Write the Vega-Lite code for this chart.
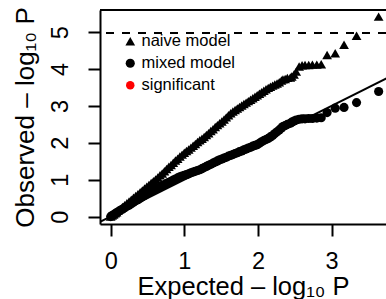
{
  "$schema": "https://vega.github.io/schema/vega-lite/v6.json",
  "autosize": "none",
  "padding": {"left": 100, "top": 10, "right": 0, "bottom": 75},
  "width": 286,
  "height": 214,
  "background": "white",
  "datasets": {
    "frame": [{"y": 5.6}],
    "threshold": [{"y": 4.98}],
    "diagonal": [{"x": -0.145, "y": -0.145, "x2": 3.765, "y2": 3.765}],
    "qq": [
      {"x": 0.00, "y": 0.00, "model": "naive model"},
      {"x": 0.02, "y": 0.03, "model": "naive model"},
      {"x": 0.04, "y": 0.06, "model": "naive model"},
      {"x": 0.06, "y": 0.09, "model": "naive model"},
      {"x": 0.08, "y": 0.12, "model": "naive model"},
      {"x": 0.10, "y": 0.16, "model": "naive model"},
      {"x": 0.13, "y": 0.21, "model": "naive model"},
      {"x": 0.16, "y": 0.26, "model": "naive model"},
      {"x": 0.19, "y": 0.31, "model": "naive model"},
      {"x": 0.22, "y": 0.36, "model": "naive model"},
      {"x": 0.25, "y": 0.41, "model": "naive model"},
      {"x": 0.28, "y": 0.46, "model": "naive model"},
      {"x": 0.31, "y": 0.51, "model": "naive model"},
      {"x": 0.34, "y": 0.56, "model": "naive model"},
      {"x": 0.37, "y": 0.61, "model": "naive model"},
      {"x": 0.40, "y": 0.66, "model": "naive model"},
      {"x": 0.43, "y": 0.71, "model": "naive model"},
      {"x": 0.46, "y": 0.76, "model": "naive model"},
      {"x": 0.49, "y": 0.81, "model": "naive model"},
      {"x": 0.52, "y": 0.86, "model": "naive model"},
      {"x": 0.55, "y": 0.91, "model": "naive model"},
      {"x": 0.58, "y": 0.96, "model": "naive model"},
      {"x": 0.61, "y": 1.01, "model": "naive model"},
      {"x": 0.64, "y": 1.06, "model": "naive model"},
      {"x": 0.67, "y": 1.12, "model": "naive model"},
      {"x": 0.70, "y": 1.17, "model": "naive model"},
      {"x": 0.73, "y": 1.23, "model": "naive model"},
      {"x": 0.76, "y": 1.29, "model": "naive model"},
      {"x": 0.79, "y": 1.35, "model": "naive model"},
      {"x": 0.82, "y": 1.40, "model": "naive model"},
      {"x": 0.85, "y": 1.46, "model": "naive model"},
      {"x": 0.88, "y": 1.52, "model": "naive model"},
      {"x": 0.91, "y": 1.57, "model": "naive model"},
      {"x": 0.94, "y": 1.63, "model": "naive model"},
      {"x": 0.97, "y": 1.68, "model": "naive model"},
      {"x": 1.00, "y": 1.73, "model": "naive model"},
      {"x": 1.03, "y": 1.78, "model": "naive model"},
      {"x": 1.06, "y": 1.82, "model": "naive model"},
      {"x": 1.09, "y": 1.87, "model": "naive model"},
      {"x": 1.12, "y": 1.92, "model": "naive model"},
      {"x": 1.15, "y": 1.97, "model": "naive model"},
      {"x": 1.18, "y": 2.02, "model": "naive model"},
      {"x": 1.21, "y": 2.07, "model": "naive model"},
      {"x": 1.24, "y": 2.11, "model": "naive model"},
      {"x": 1.27, "y": 2.16, "model": "naive model"},
      {"x": 1.30, "y": 2.21, "model": "naive model"},
      {"x": 1.33, "y": 2.26, "model": "naive model"},
      {"x": 1.36, "y": 2.32, "model": "naive model"},
      {"x": 1.39, "y": 2.37, "model": "naive model"},
      {"x": 1.42, "y": 2.43, "model": "naive model"},
      {"x": 1.45, "y": 2.48, "model": "naive model"},
      {"x": 1.48, "y": 2.53, "model": "naive model"},
      {"x": 1.51, "y": 2.58, "model": "naive model"},
      {"x": 1.54, "y": 2.63, "model": "naive model"},
      {"x": 1.57, "y": 2.69, "model": "naive model"},
      {"x": 1.60, "y": 2.75, "model": "naive model"},
      {"x": 1.63, "y": 2.80, "model": "naive model"},
      {"x": 1.66, "y": 2.85, "model": "naive model"},
      {"x": 1.69, "y": 2.89, "model": "naive model"},
      {"x": 1.72, "y": 2.93, "model": "naive model"},
      {"x": 1.75, "y": 2.97, "model": "naive model"},
      {"x": 1.78, "y": 3.01, "model": "naive model"},
      {"x": 1.81, "y": 3.05, "model": "naive model"},
      {"x": 1.84, "y": 3.09, "model": "naive model"},
      {"x": 1.87, "y": 3.13, "model": "naive model"},
      {"x": 1.90, "y": 3.17, "model": "naive model"},
      {"x": 1.93, "y": 3.21, "model": "naive model"},
      {"x": 1.96, "y": 3.25, "model": "naive model"},
      {"x": 1.99, "y": 3.29, "model": "naive model"},
      {"x": 2.02, "y": 3.33, "model": "naive model"},
      {"x": 2.05, "y": 3.37, "model": "naive model"},
      {"x": 2.08, "y": 3.41, "model": "naive model"},
      {"x": 2.11, "y": 3.45, "model": "naive model"},
      {"x": 2.14, "y": 3.49, "model": "naive model"},
      {"x": 2.17, "y": 3.52, "model": "naive model"},
      {"x": 2.20, "y": 3.55, "model": "naive model"},
      {"x": 2.23, "y": 3.58, "model": "naive model"},
      {"x": 2.26, "y": 3.61, "model": "naive model"},
      {"x": 2.29, "y": 3.64, "model": "naive model"},
      {"x": 2.32, "y": 3.69, "model": "naive model"},
      {"x": 2.34, "y": 3.72, "model": "naive model"},
      {"x": 2.37, "y": 3.73, "model": "naive model"},
      {"x": 2.40, "y": 3.76, "model": "naive model"},
      {"x": 2.44, "y": 3.77, "model": "naive model"},
      {"x": 2.46, "y": 3.80, "model": "naive model"},
      {"x": 2.49, "y": 3.85, "model": "naive model"},
      {"x": 2.52, "y": 3.93, "model": "naive model"},
      {"x": 2.56, "y": 4.07, "model": "naive model"},
      {"x": 2.60, "y": 4.10, "model": "naive model"},
      {"x": 2.64, "y": 4.11, "model": "naive model"},
      {"x": 2.69, "y": 4.11, "model": "naive model"},
      {"x": 2.74, "y": 4.12, "model": "naive model"},
      {"x": 2.80, "y": 4.12, "model": "naive model"},
      {"x": 2.86, "y": 4.13, "model": "naive model"},
      {"x": 2.94, "y": 4.38, "model": "naive model"},
      {"x": 3.05, "y": 4.43, "model": "naive model"},
      {"x": 3.17, "y": 4.66, "model": "naive model"},
      {"x": 3.34, "y": 4.90, "model": "naive model"},
      {"x": 3.64, "y": 5.42, "model": "naive model"},
      {"x": 0.00, "y": 0.00, "model": "mixed model"},
      {"x": 0.02, "y": 0.03, "model": "mixed model"},
      {"x": 0.04, "y": 0.05, "model": "mixed model"},
      {"x": 0.06, "y": 0.08, "model": "mixed model"},
      {"x": 0.08, "y": 0.10, "model": "mixed model"},
      {"x": 0.10, "y": 0.13, "model": "mixed model"},
      {"x": 0.13, "y": 0.17, "model": "mixed model"},
      {"x": 0.16, "y": 0.20, "model": "mixed model"},
      {"x": 0.19, "y": 0.24, "model": "mixed model"},
      {"x": 0.22, "y": 0.28, "model": "mixed model"},
      {"x": 0.25, "y": 0.31, "model": "mixed model"},
      {"x": 0.28, "y": 0.35, "model": "mixed model"},
      {"x": 0.31, "y": 0.39, "model": "mixed model"},
      {"x": 0.34, "y": 0.43, "model": "mixed model"},
      {"x": 0.37, "y": 0.46, "model": "mixed model"},
      {"x": 0.40, "y": 0.50, "model": "mixed model"},
      {"x": 0.43, "y": 0.54, "model": "mixed model"},
      {"x": 0.46, "y": 0.57, "model": "mixed model"},
      {"x": 0.49, "y": 0.61, "model": "mixed model"},
      {"x": 0.52, "y": 0.65, "model": "mixed model"},
      {"x": 0.55, "y": 0.68, "model": "mixed model"},
      {"x": 0.58, "y": 0.72, "model": "mixed model"},
      {"x": 0.61, "y": 0.75, "model": "mixed model"},
      {"x": 0.64, "y": 0.78, "model": "mixed model"},
      {"x": 0.67, "y": 0.81, "model": "mixed model"},
      {"x": 0.70, "y": 0.84, "model": "mixed model"},
      {"x": 0.73, "y": 0.87, "model": "mixed model"},
      {"x": 0.76, "y": 0.90, "model": "mixed model"},
      {"x": 0.79, "y": 0.93, "model": "mixed model"},
      {"x": 0.82, "y": 0.96, "model": "mixed model"},
      {"x": 0.85, "y": 0.99, "model": "mixed model"},
      {"x": 0.88, "y": 1.02, "model": "mixed model"},
      {"x": 0.91, "y": 1.05, "model": "mixed model"},
      {"x": 0.94, "y": 1.08, "model": "mixed model"},
      {"x": 0.97, "y": 1.10, "model": "mixed model"},
      {"x": 1.00, "y": 1.12, "model": "mixed model"},
      {"x": 1.03, "y": 1.14, "model": "mixed model"},
      {"x": 1.06, "y": 1.16, "model": "mixed model"},
      {"x": 1.09, "y": 1.19, "model": "mixed model"},
      {"x": 1.12, "y": 1.21, "model": "mixed model"},
      {"x": 1.15, "y": 1.23, "model": "mixed model"},
      {"x": 1.18, "y": 1.25, "model": "mixed model"},
      {"x": 1.21, "y": 1.27, "model": "mixed model"},
      {"x": 1.24, "y": 1.30, "model": "mixed model"},
      {"x": 1.27, "y": 1.33, "model": "mixed model"},
      {"x": 1.30, "y": 1.36, "model": "mixed model"},
      {"x": 1.33, "y": 1.39, "model": "mixed model"},
      {"x": 1.36, "y": 1.42, "model": "mixed model"},
      {"x": 1.39, "y": 1.45, "model": "mixed model"},
      {"x": 1.42, "y": 1.48, "model": "mixed model"},
      {"x": 1.45, "y": 1.51, "model": "mixed model"},
      {"x": 1.48, "y": 1.54, "model": "mixed model"},
      {"x": 1.51, "y": 1.56, "model": "mixed model"},
      {"x": 1.54, "y": 1.59, "model": "mixed model"},
      {"x": 1.57, "y": 1.61, "model": "mixed model"},
      {"x": 1.60, "y": 1.64, "model": "mixed model"},
      {"x": 1.63, "y": 1.66, "model": "mixed model"},
      {"x": 1.66, "y": 1.68, "model": "mixed model"},
      {"x": 1.69, "y": 1.71, "model": "mixed model"},
      {"x": 1.72, "y": 1.73, "model": "mixed model"},
      {"x": 1.75, "y": 1.76, "model": "mixed model"},
      {"x": 1.78, "y": 1.78, "model": "mixed model"},
      {"x": 1.81, "y": 1.81, "model": "mixed model"},
      {"x": 1.84, "y": 1.83, "model": "mixed model"},
      {"x": 1.87, "y": 1.86, "model": "mixed model"},
      {"x": 1.90, "y": 1.88, "model": "mixed model"},
      {"x": 1.93, "y": 1.91, "model": "mixed model"},
      {"x": 1.96, "y": 1.93, "model": "mixed model"},
      {"x": 1.99, "y": 1.95, "model": "mixed model"},
      {"x": 2.02, "y": 1.99, "model": "mixed model"},
      {"x": 2.05, "y": 2.03, "model": "mixed model"},
      {"x": 2.08, "y": 2.06, "model": "mixed model"},
      {"x": 2.11, "y": 2.09, "model": "mixed model"},
      {"x": 2.14, "y": 2.12, "model": "mixed model"},
      {"x": 2.17, "y": 2.16, "model": "mixed model"},
      {"x": 2.20, "y": 2.20, "model": "mixed model"},
      {"x": 2.23, "y": 2.25, "model": "mixed model"},
      {"x": 2.26, "y": 2.30, "model": "mixed model"},
      {"x": 2.29, "y": 2.35, "model": "mixed model"},
      {"x": 2.32, "y": 2.40, "model": "mixed model"},
      {"x": 2.34, "y": 2.44, "model": "mixed model"},
      {"x": 2.37, "y": 2.47, "model": "mixed model"},
      {"x": 2.40, "y": 2.50, "model": "mixed model"},
      {"x": 2.44, "y": 2.53, "model": "mixed model"},
      {"x": 2.46, "y": 2.56, "model": "mixed model"},
      {"x": 2.49, "y": 2.59, "model": "mixed model"},
      {"x": 2.52, "y": 2.62, "model": "mixed model"},
      {"x": 2.56, "y": 2.64, "model": "mixed model"},
      {"x": 2.60, "y": 2.65, "model": "mixed model"},
      {"x": 2.64, "y": 2.65, "model": "mixed model"},
      {"x": 2.69, "y": 2.66, "model": "mixed model"},
      {"x": 2.74, "y": 2.66, "model": "mixed model"},
      {"x": 2.80, "y": 2.67, "model": "mixed model"},
      {"x": 2.86, "y": 2.68, "model": "mixed model"},
      {"x": 2.94, "y": 2.82, "model": "mixed model"},
      {"x": 3.05, "y": 2.94, "model": "mixed model"},
      {"x": 3.17, "y": 2.96, "model": "mixed model"},
      {"x": 3.34, "y": 3.09, "model": "mixed model"},
      {"x": 3.64, "y": 3.39, "model": "mixed model"}
    ]
  },
  "layer": [
    {
      "data": {"name": "qq"},
      "mark": {"type": "point", "filled": true, "opacity": 1},
      "encoding": {
        "x": {
          "field": "x", "type": "quantitative", "title": "Expected – log₁₀ P",
          "scale": {"domain": [-0.145, 3.74], "nice": false, "zero": false},
          "axis": {
            "values": [0, 1, 2, 3], "format": "d", "grid": false,
            "domainColor": "black", "domainWidth": 2, "tickColor": "black", "tickWidth": 2, "tickSize": 12,
            "labelFont": "Liberation Sans", "labelFontSize": 23.5, "labelColor": "black", "labelPadding": 13,
            "titleFont": "Liberation Sans", "titleFontSize": 25.5, "titleFontWeight": "normal", "titleColor": "black", "titlePadding": 2
          }
        },
        "y": {
          "field": "y", "type": "quantitative", "title": "Observed – log₁₀ P",
          "scale": {"domain": [-0.2, 5.6], "nice": false, "zero": false},
          "axis": {
            "values": [0, 1, 2, 3, 4, 5], "format": "d", "grid": false,
            "domainColor": "black", "domainWidth": 2, "tickColor": "black", "tickWidth": 2, "tickSize": 12,
            "labelFont": "Liberation Sans", "labelFontSize": 23.5, "labelColor": "black",
            "labelAngle": -90, "labelPadding": 16,
            "titleFont": "Liberation Sans", "titleFontSize": 26, "titleFontWeight": "normal", "titleColor": "black", "titlePadding": 10
          }
        },
        "color": {
          "field": "model", "type": "nominal",
          "scale": {"domain": ["naive model", "mixed model", "significant"], "range": ["black", "black", "red"]},
          "legend": {"title": null}
        },
        "shape": {
          "field": "model", "type": "nominal",
          "scale": {"domain": ["naive model", "mixed model", "significant"], "range": ["triangle-up", "circle", "circle"]},
          "legend": {"title": null}
        },
        "size": {
          "field": "model", "type": "nominal",
          "scale": {"domain": ["naive model", "mixed model", "significant"], "range": [95, 72, 72]},
          "legend": null
        }
      }
    },
    {
      "data": {"name": "frame"},
      "mark": {"type": "rule", "color": "black", "strokeWidth": 2},
      "encoding": {"y": {"field": "y", "type": "quantitative", "title": "Observed – log₁₀ P", "axis": {"labelAngle": -90}}}
    },
    {
      "data": {"name": "threshold"},
      "mark": {"type": "rule", "color": "black", "strokeWidth": 2, "strokeDash": [8, 8]},
      "encoding": {"y": {"field": "y", "type": "quantitative", "title": "Observed – log₁₀ P", "axis": {"labelAngle": -90}}}
    },
    {
      "data": {"name": "diagonal"},
      "mark": {"type": "rule", "color": "black", "strokeWidth": 2, "clip": true},
      "encoding": {
        "x": {"field": "x", "type": "quantitative", "title": "Expected – log₁₀ P"},
        "y": {"field": "y", "type": "quantitative", "title": "Observed – log₁₀ P", "axis": {"labelAngle": -90}},
        "x2": {"field": "x2"},
        "y2": {"field": "y2"}
      }
    }
  ],
  "config": {
    "view": {"stroke": null},
    "font": "Liberation Sans",
    "legend": {
      "orient": "none",
      "legendX": 22,
      "legendY": 23,
      "padding": 0,
      "symbolSize": 70,
      "labelFont": "Liberation Sans",
      "labelFontSize": 16.5,
      "labelColor": "black",
      "labelOffset": 3,
      "rowPadding": 5
    }
  }
}
